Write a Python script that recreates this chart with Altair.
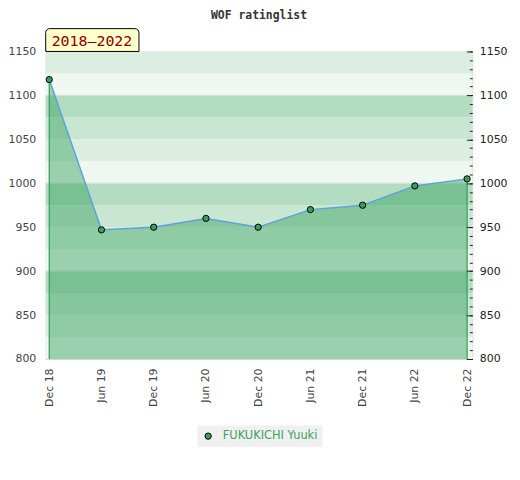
import json
import altair as alt
import pandas as pd

# ---- data ----
periods = ["Dec 18", "Jun 19", "Dec 19", "Jun 20", "Dec 20", "Jun 21", "Dec 21", "Jun 22", "Dec 22"]
ratings = [1118, 947, 950, 960, 950, 970, 975, 997, 1005]
player = "FUKUKICHI Yuuki"
title_text = "WOF ratinglist"
badge_text = "2018\u20132022"
y_min, y_max = 800, 1150

df = pd.DataFrame({"idx": list(range(len(periods))), "period": periods,
                   "rating": ratings, "player": player, "base": y_min})
edges = df.iloc[[0, len(df) - 1]]

band_colors = ["#eff7f1", "#dbeee1", "#c8e6d2", "#b3ddc1"]
bands = pd.DataFrame({"y0": list(range(y_min, y_max, 25))})
bands["y1"] = bands["y0"] + 25
bands["col"] = [band_colors[(v % 100) // 25] for v in bands["y0"]]
grid = pd.DataFrame({"g": list(range(900, y_max, 100))})

W, H = 430, 310
label_expr = json.dumps(periods) + "[datum.value]"

xs = alt.Scale(domain=[-0.068, 8.1], nice=False, zero=False)
ys = alt.Scale(domain=[y_min, y_max], nice=False, zero=False)

x_axis = alt.Axis(values=list(range(len(periods))), labelExpr=label_expr, labelAngle=-90,
                  tickSize=0, domain=False, grid=False, labelPadding=9, labelFontSize=11,
                  labelColor="#444", labelFont="DejaVu Sans", title=None)

band_layer = alt.Chart(bands).mark_rect().encode(
    x=alt.value(0), x2=alt.value(W),
    y=alt.Y("y0:Q", scale=ys, axis=alt.Axis(orient="left", values=list(range(y_min, y_max + 1, 50)),
            format="d", tickSize=0, domain=False, grid=False, labelPadding=10, labelFontSize=11,
            labelColor="#444", labelFont="DejaVu Sans", title=None)),
    y2="y1:Q",
    color=alt.Color("col:N", scale=None),
)

grid_layer = alt.Chart(grid).mark_rule(color="#d8dcd8", strokeWidth=1).encode(
    y=alt.Y("g:Q", scale=ys, axis=alt.Axis(orient="right", values=list(range(y_min, y_max + 1, 50)),
            format="d", tickSize=6, offset=-6, domain=False, grid=False, labelPadding=7, labelFontSize=11,
            labelColor="#222", tickColor="#222", labelFont="DejaVu Sans", title=None, zindex=1)),
)

area_layer = alt.Chart(df).mark_area(color="rgb(50,160,90)", opacity=0.45).encode(
    x=alt.X("idx:Q", scale=xs, axis=x_axis),
    y=alt.Y("rating:Q", scale=ys, axis=alt.Axis(orient="right", values=list(range(y_min, y_max + 1, 10)),
            tickSize=3, offset=-3, domain=False, grid=False, labels=False, tickColor="#222",
            title=None, zindex=1)),
    y2="base:Q",
)

edge_layer = alt.Chart(edges).mark_rule(color="#2f9e55", strokeWidth=1.2).encode(
    x=alt.X("idx:Q", scale=xs, axis=x_axis),
    y=alt.Y("rating:Q", scale=ys, axis=None),
    y2="base:Q",
)

line_layer = alt.Chart(df).mark_line(color="#5ea2dc", strokeWidth=1.5).encode(
    x=alt.X("idx:Q", scale=xs, axis=x_axis),
    y=alt.Y("rating:Q", scale=ys, axis=None),
)

point_layer = alt.Chart(df).mark_circle(size=40, opacity=1, stroke="black", strokeWidth=1).encode(
    x=alt.X("idx:Q", scale=xs, axis=x_axis),
    y=alt.Y("rating:Q", scale=ys, axis=None),
    fill=alt.Fill("player:N", scale=alt.Scale(domain=[player], range=["#3a9e5c"]),
                  legend=alt.Legend(title=None, orient="none", legendX=153, legendY=377,
                                    fillColor="#f0f0f0", padding=5, symbolType="circle",
                                    symbolSize=40, symbolStrokeColor="black", symbolStrokeWidth=1,
                                    labelColor="#3aa35f", labelFontSize=11.5, labelFont="DejaVu Sans",
                                    labelOffset=9)),
)

badge_rect = alt.Chart(df.iloc[[0]]).mark_rect(fill="#ffffcc", stroke="black", strokeWidth=1,
                                               cornerRadiusTopLeft=4, cornerRadiusTopRight=4).encode(
    x=alt.value(0), x2=alt.value(94), y=alt.value(-23), y2=alt.value(0))

badge_text_layer = alt.Chart(df.iloc[[0]]).mark_text(text=badge_text, font="DejaVu Sans Mono", fontSize=15,
                                                     color="#8b0000", align="left", baseline="alphabetic").encode(
    x=alt.value(6), y=alt.value(-5))

title_layer = alt.Chart(df.iloc[[0]]).mark_text(text=title_text, font="DejaVu Sans Mono", fontSize=11.5,
                                                fontWeight="bold", color="#333", align="center",
                                                baseline="alphabetic").encode(
    x=alt.value(W / 2), y=alt.value(-33))

chart = alt.layer(band_layer, grid_layer, area_layer, edge_layer, line_layer, point_layer,
                  badge_rect, badge_text_layer, title_layer).resolve_axis(y="independent").properties(
    width=W, height=H,
    autosize=alt.AutoSizeParams(type="none"),
    padding={"left": 38, "top": 42, "right": 40, "bottom": 100},
).configure_view(stroke="#d6d6d6", strokeWidth=1)

chart.save("out.html", embed_options={"renderer": "svg", "actions": False})
